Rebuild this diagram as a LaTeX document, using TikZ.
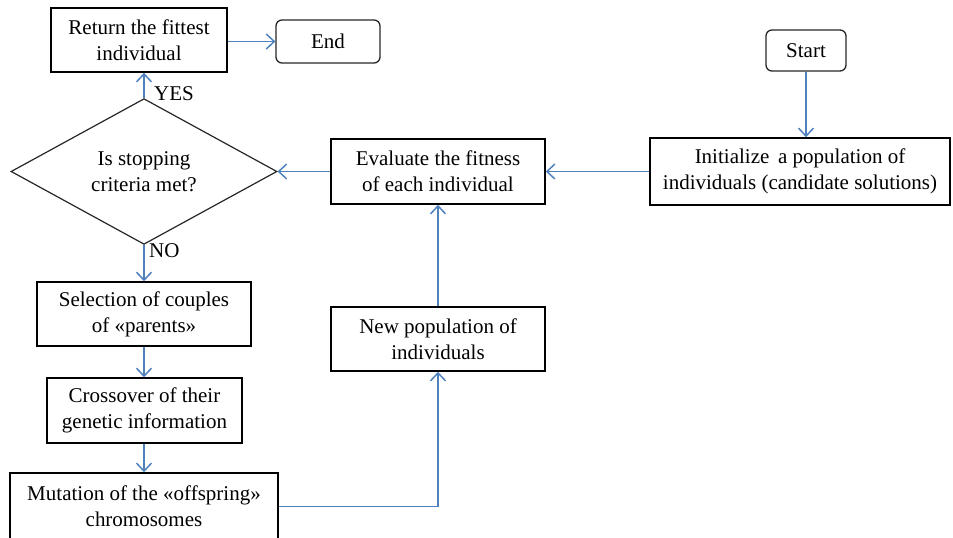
\documentclass[tikz,border=0pt]{standalone}
\usepackage{fontspec}
\setmainfont{Liberation Serif}
\usetikzlibrary{shapes.geometric,arrows.meta}
\definecolor{flowblue}{RGB}{79,129,189}
\begin{document}
\begin{tikzpicture}[x=1pt,y=-1pt,
  font=\fontsize{21}{26}\selectfont,
  every node/.style={inner sep=0pt},
  box/.style={draw=black,line width=1.6pt,align=center,minimum height=64pt},
  term/.style={draw=black!85,line width=1.3pt,rounded corners=6pt,align=center},
  decision/.style={draw=black!85,line width=1.2pt,shape=diamond,align=center,
    minimum width=266pt,minimum height=128pt},
  flow/.style={draw=flowblue,line width=1.5pt,-{Straight Barb[length=8pt,width=15pt,line width=1.5pt]}},
  lbl/.style={anchor=west}]
\useasboundingbox (0,0) rectangle (953,538);

\node[term,minimum width=80pt,minimum height=41pt] (start) at (806,50.5) {Start};
\node[box,minimum width=300pt,minimum height=67pt] (init) at (800,171.5)
  {Initialize\, a population of\\individuals (candidate solutions)};
\node[box,minimum width=214pt,minimum height=65pt] (eval) at (438,171.5)
  {Evaluate the fitness\\of each individual};
\node[decision] (stop) at (144,171.5) {Is stopping\\criteria met?};
\node[box,minimum width=176pt] (ret) at (139,40) {Return the fittest\\individual};
\node[term,minimum width=104pt,minimum height=43pt] (end) at (328,41.5) {End};
\node[box,minimum width=214pt] (sel) at (144,314) {Selection of couples\\of «parents»};
\node[box,minimum width=195pt,minimum height=65pt] (cross) at (144.5,410.5)
  {Crossover of their\\genetic information};
\node[box,minimum width=268pt,minimum height=67pt] (mut) at (144,506.5)
  {Mutation of the «offspring»\\chromosomes};
\node[box,minimum width=214pt] (newpop) at (438,339) {New population of\\individuals};

\node[lbl] (yes) at (154,94) {YES};
\node[lbl] (no) at (149,251) {NO};

\draw[flow] (start.south) -- (init.north -| start.south);
\draw[flow] (init.west) -- (eval.east);
\draw[flow] (eval.west) -- (stop.east);
\draw[flow] (stop.north) -- (ret.south -| stop.north);
\draw[flow] (ret.east |- end.west) -- (end.west);
\draw[flow] (stop.south) -- (sel.north);
\draw[flow] (sel.south) -- (cross.north -| sel.south);
\draw[flow] (cross.south -| sel.south) -- (mut.north);
\draw[flow] (mut.east) -| (newpop.south);
\draw[flow] (newpop.north) -- (eval.south);
\end{tikzpicture}
\end{document}
